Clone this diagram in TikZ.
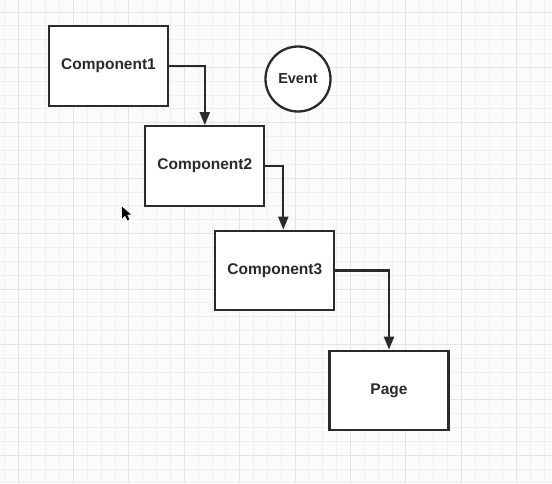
\documentclass[tikz,border=0pt]{standalone}
\usepackage{fontspec}
\setmainfont{Liberation Sans}
\usetikzlibrary{arrows.meta}
\definecolor{bgc}{HTML}{FBFBF9}
\definecolor{gridminor}{HTML}{EFEFED}
\definecolor{gridmajor}{HTML}{E3E3E1}
\definecolor{ink}{HTML}{2A2A2A}
\tikzset{
  compbox/.style={draw=ink, fill=white, line width=2.3pt, minimum width=119pt, minimum height=79.5pt, inner sep=0pt, font=\fontsize{15.5}{18}\selectfont\bfseries, text=ink},
  eventcirc/.style={draw=ink, fill=white, line width=2.3pt, circle, minimum size=65pt, inner sep=0pt, font=\fontsize{14.5}{17}\selectfont\bfseries, text=ink},
  flow/.style={draw=ink, line width=2.2pt, -{Triangle[length=13pt,width=10pt]}},
}
\begin{document}
\begin{tikzpicture}[x=1pt,y=-1pt]
\useasboundingbox (0,0) rectangle (552,483);
\fill[bgc] (0,0) rectangle (552,483);
% minor grid
\foreach \k in {0,...,39} {
  \draw[gridminor, line width=1pt] ({4.25+13.85*\k},0) -- ({4.25+13.85*\k},483);
}
\foreach \k in {0,...,34} {
  \draw[gridminor, line width=1pt] (0,{12+13.85*\k}) -- (552,{12+13.85*\k});
}
% major grid
\foreach \k in {0,...,9} {
  \draw[gridmajor, line width=1pt] ({18.1+55.4*\k},0) -- ({18.1+55.4*\k},483);
}
\foreach \k in {0,...,8} {
  \draw[gridmajor, line width=1pt] (0,{12+55.4*\k}) -- (552,{12+55.4*\k});
}
% nodes
\node[compbox] (c1) at (108.5,66) {Component1};
\node[compbox] (c2) at (204.8,166) {Component2};
\node[compbox] (c3) at (274.8,270.5) {Component3};
\node[compbox] (page) at (389,390.5) {Page};
\node[eventcirc] (event) at (298,79) {Event};
% connectors
\coordinate (c3in) at ([xshift=8.5pt]c3.north);
\draw[flow] (c1.east) -| (c2.north);
\draw[flow] (c2.east) -| (c3in);
\draw[flow] (c3.east) -| (page.north);
% cursor
\fill[black] (121.8,206.5) -- (122.2,218.5) -- (125,215.6) -- (127.4,220.3) -- (129.4,219.4) -- (127.1,214.8) -- (131,214.6) -- cycle;
\end{tikzpicture}
\end{document}
